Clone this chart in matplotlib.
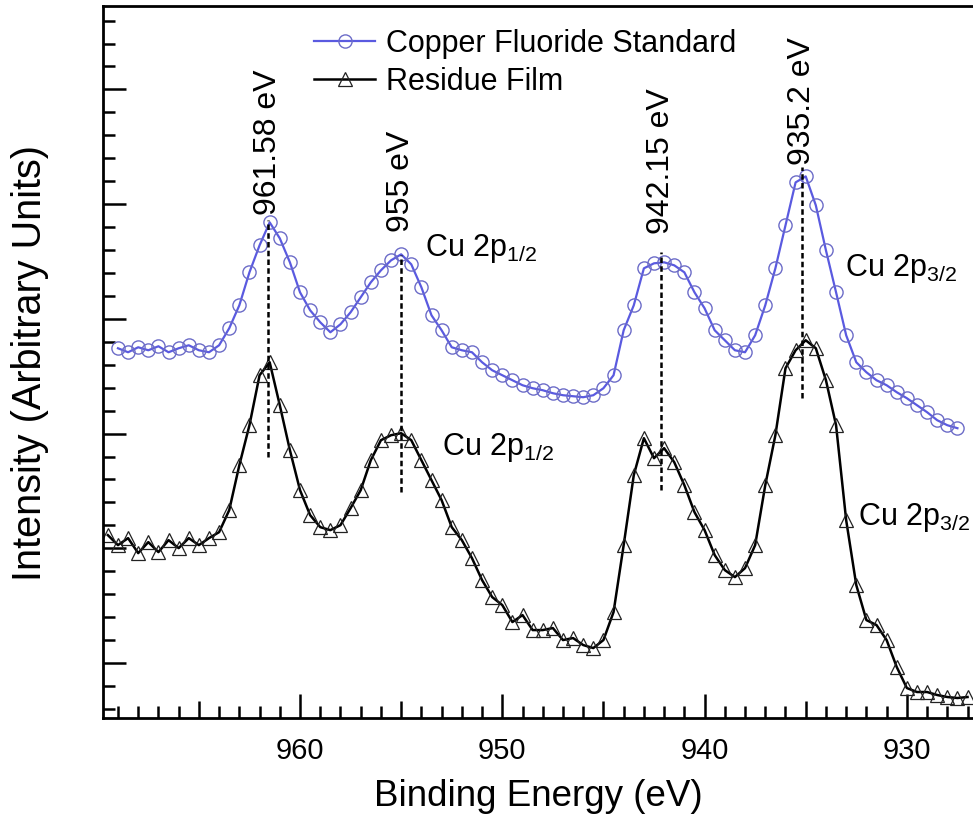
import numpy as np
import matplotlib
matplotlib.use("Agg")
import matplotlib.pyplot as plt

plt.rcParams['font.family'] = ['Liberation Sans', 'DejaVu Sans']
plt.rcParams['mathtext.fontset'] = 'custom'
plt.rcParams['mathtext.rm'] = 'Liberation Sans'
plt.rcParams['mathtext.it'] = 'Liberation Sans'

# ---------------- data (binding energy in eV, intensity in arbitrary units) -------------
energy_std = [969.0, 968.5, 968.0, 967.5, 967.0, 966.5, 966.0, 965.5, 965.0, 964.5,
              964.0, 963.5, 963.0, 962.5, 962.0, 961.5, 961.0, 960.5, 960.0, 959.5,
              959.0, 958.5, 958.0, 957.5, 957.0, 956.5, 956.0, 955.5, 955.0, 954.5,
              954.0, 953.5, 953.0, 952.5, 952.0, 951.5, 951.0, 950.5, 950.0, 949.5,
              949.0, 948.5, 948.0, 947.5, 947.0, 946.5, 946.0, 945.5, 945.0, 944.5,
              944.0, 943.5, 943.0, 942.5, 942.0, 941.5, 941.0, 940.5, 940.0, 939.5,
              939.0, 938.5, 938.0, 937.5, 937.0, 936.5, 936.0, 935.5, 935.0, 934.5,
              934.0, 933.5, 933.0, 932.5, 932.0, 931.5, 931.0, 930.5, 930.0, 929.5,
              929.0, 928.5, 928.0, 927.5]
intensity_std = [370, 366, 371, 368, 372, 366, 370, 373, 368, 366,
                 373, 390, 413, 446, 473, 496, 480, 456, 426, 408,
                 396, 386, 394, 406, 421, 436, 448, 458, 464, 454,
                 431, 403, 388, 371, 368, 366, 356, 348, 343, 338,
                 333, 330, 328, 325, 323, 322, 321, 323, 330, 343,
                 388, 413, 450, 455, 456, 453, 446, 426, 410, 388,
                 378, 368, 366, 383, 413, 450, 493, 536, 542, 513,
                 468, 426, 383, 356, 346, 338, 333, 326, 320, 313,
                 306, 298, 293, 290]

energy_film = [969.5, 969.0, 968.5, 968.0, 967.5, 967.0, 966.5, 966.0, 965.5, 965.0,
               964.5, 964.0, 963.5, 963.0, 962.5, 962.0, 961.5, 961.0, 960.5, 960.0,
               959.5, 959.0, 958.5, 958.0, 957.5, 957.0, 956.5, 956.0, 955.5, 955.0,
               954.5, 954.0, 953.5, 953.0, 952.5, 952.0, 951.5, 951.0, 950.5, 950.0,
               949.5, 949.0, 948.5, 948.0, 947.5, 947.0, 946.5, 946.0, 945.5, 945.0,
               944.5, 944.0, 943.5, 943.0, 942.5, 942.0, 941.5, 941.0, 940.5, 940.0,
               939.5, 939.0, 938.5, 938.0, 937.5, 937.0, 936.5, 936.0, 935.5, 935.0,
               934.5, 934.0, 933.5, 933.0, 932.5, 932.0, 931.5, 931.0, 930.5, 930.0,
               929.5, 929.0, 928.5, 928.0, 927.5, 927.0]
intensity_film = [183, 173, 180, 165, 176, 166, 178, 170, 180, 173,
                  180, 186, 208, 253, 293, 343, 356, 313, 268, 228,
                  203, 191, 188, 193, 210, 228, 258, 278, 283, 285,
                  278, 258, 238, 218, 191, 178, 160, 138, 121, 113,
                  96, 103, 88, 88, 90, 78, 80, 73, 70, 78,
                  106, 173, 243, 280, 260, 270, 256, 233, 206, 188,
                  163, 148, 141, 150, 173, 233, 283, 350, 368, 378,
                  370, 338, 293, 198, 133, 98, 93, 78, 51, 30,
                  26, 26, 23, 21, 20, 21]

peak_positions = [961.58, 955.0, 942.15, 935.2]
peak_labels = ['961.58 eV', '955 eV', '942.15 eV', '935.2 eV']
dash_bottom = [261, 226, 228, 320]
dash_top = [498, 463, 466, 551]
text_bottom = [503, 486, 484, 553]

orbital_labels = [r'Cu 2p$_{\mathrm{1/2}}$', r'Cu 2p$_{\mathrm{3/2}}$',
                  r'Cu 2p$_{\mathrm{1/2}}$', r'Cu 2p$_{\mathrm{3/2}}$']
orbital_x = [953.82, 933.06, 952.98, 932.42]
orbital_y = [470, 450, 271, 201]

series_names = ['Copper Fluoride Standard', 'Residue Film']

# ---------------- figure -------------
W, H = 973, 826
fig = plt.figure(figsize=(W / 100, H / 100), dpi=100)
ax = fig.add_axes([103 / W, 1 - 718 / H, (W - 103) / W, (718 - 6.5) / H])

blue = '#5a5ae0'
ax.plot(energy_std, intensity_std, color=blue, lw=1.6, marker='o', ms=9.5,
        mfc='none', mec='#6c6cc8', mew=1.0, label=series_names[0])
ax.plot(energy_film, intensity_film, color='black', lw=1.8, marker='^', ms=9.5,
        mfc='none', mec='#222222', mew=0.9, label=series_names[1])

for e, lab, yb, yt, tb in zip(peak_positions, peak_labels, dash_bottom, dash_top, text_bottom):
    ax.plot([e, e], [yb, yt], color='black', lw=1.8, ls=(0, (2.2, 1.3)))
    ax.text(e, tb, lab, rotation=90, ha='center', va='bottom', fontsize=23)

for lab, x, y in zip(orbital_labels, orbital_x, orbital_y):
    ax.text(x, y, lab, ha='left', va='center', fontsize=22)

ax.set_xlim(969.74, 926.73)
ax.set_ylim(0, 712)

# x ticks: long at 10 eV, medium at 5 eV, short at 1 eV
xt = np.arange(965, 926, -5)
ax.set_xticks(xt)
ax.set_xticklabels([str(int(v)) if v % 10 == 0 else '' for v in xt])
ax.set_xticks(np.arange(969, 926, -1), minor=True)
ax.tick_params(axis='x', which='major', direction='in', length=17, width=1.8,
               labelsize=21, pad=14)
ax.tick_params(axis='x', which='minor', direction='in', length=8.5, width=1.8)
for t, v in zip(ax.xaxis.get_major_ticks(), xt):
    if v % 10 != 0:
        t.tick1line.set_markersize(12)

# y ticks: no labels
ymaj = np.arange(55, 712, 114.8)
ax.set_yticks(ymaj)
ax.set_yticks(np.arange(55 - 2 * 22.96, 712, 22.96), minor=True)
ax.set_yticklabels([])
ax.tick_params(axis='y', which='major', direction='in', length=16.5, width=1.8)
ax.tick_params(axis='y', which='minor', direction='in', length=8.5, width=1.8)

for s in ['left', 'bottom', 'top']:
    ax.spines[s].set_linewidth(2.0)
ax.spines['right'].set_visible(False)

ax.set_xlabel('Binding Energy (eV)', fontsize=26.5, labelpad=10)
fig.text(30 / W, 1 - 363 / H, 'Intensity (Arbitrary Units)', rotation=90,
         ha='center', va='center', fontsize=28.5)

ax.legend(loc='upper left', bbox_to_anchor=(314 / W, 1 - 29 / H),
          bbox_transform=fig.transFigure, frameon=False, fontsize=22,
          handlelength=2.0, handletextpad=0.35, labelspacing=0.25,
          borderpad=0, borderaxespad=0)

fig.savefig('out.png', dpi=100)
